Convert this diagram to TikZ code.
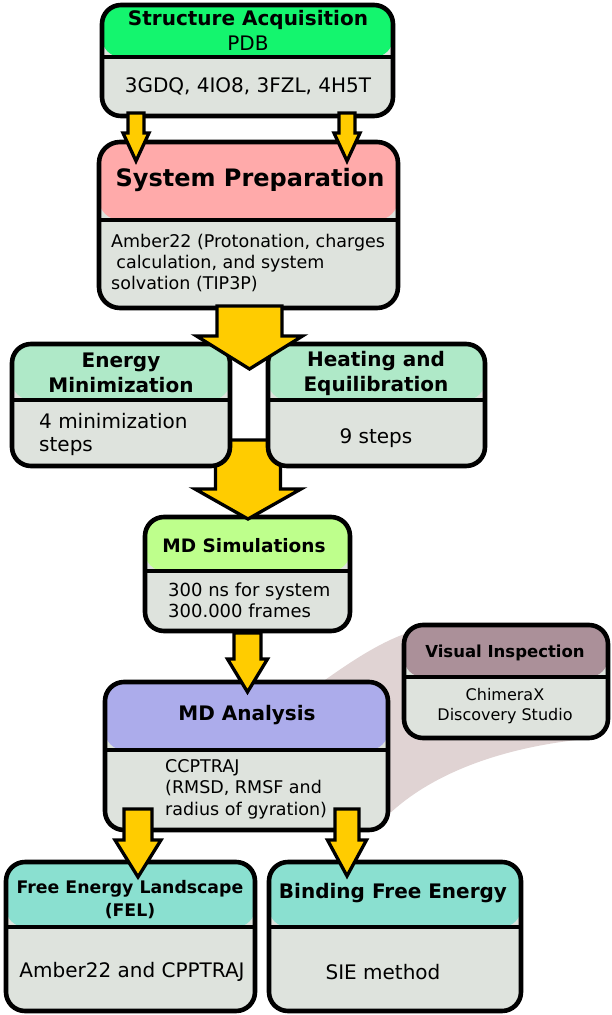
\documentclass[tikz,border=0pt]{standalone}
\usepackage{fontspec}
\setmainfont{DejaVu Sans}
\usetikzlibrary{calc}
\definecolor{hgreen}{RGB}{20,245,110}
\definecolor{bodygray}{RGB}{222,227,221}
\definecolor{hpink}{RGB}{255,170,170}
\definecolor{hmint}{RGB}{175,233,200}
\definecolor{hlime}{RGB}{190,255,140}
\definecolor{hlav}{RGB}{172,172,235}
\definecolor{hmauve}{RGB}{171,144,153}
\definecolor{hteal}{RGB}{138,224,208}
\definecolor{ayellow}{RGB}{255,204,0}
\definecolor{shadecol}{RGB}{224,211,211}
\tikzset{
  fbox/.style n args={4}{draw=black, line width=4.6pt, rounded corners=19pt, fill=bodygray,
    minimum width=#1, minimum height=#2, inner sep=0pt,
    path picture={
      \fill[#4] (path picture bounding box.north west) rectangle ([yshift=-#3]path picture bounding box.north east);
      \draw[line width=4.6pt] ([yshift=-#3]path picture bounding box.north west) -- ([yshift=-#3]path picture bounding box.north east);
    }},
  ttl/.style={font={\bfseries\fontsize{20}{25}\selectfont}, align=center, inner sep=0pt},
  txt/.style={font={\fontsize{20}{23}\selectfont}, align=center, inner sep=0pt},
  bodytxt/.style={font={\fontsize{17.5}{21.5}\selectfont}, align=left, inner sep=0pt, anchor=west},
  fatarr/.style={fill=ayellow, draw=black, line width=3.3pt, line join=miter},
}
\newcommand\fatarrow[5]{%
  \path[fatarr] let \p1=(#1), \p2=(#2) in
   (\x1-#3,\y1) -- (\x1+#3,\y1) -- (\x1+#3,\y2+#5) -- (\x1+#4,\y2+#5)
   -- (\x2,\y2) -- (\x1-#4,\y2+#5) -- (\x1-#3,\y2+#5) -- cycle;}
\begin{document}
\begin{tikzpicture}[x=1pt,y=-1pt]
\useasboundingbox (0,0) rectangle (611,1015);
\fill[white] (0,0) rectangle (611,1015);

% arrow coordinates
\coordinate (sa1) at (136,113);   \coordinate (ta1) at (136,161);
\coordinate (sa2) at (347,113);   \coordinate (ta2) at (347,161);
\coordinate (sb1) at (249.5,306); \coordinate (tb1) at (249.5,369);
\coordinate (sb2) at (248,440);   \coordinate (tb2) at (248,519);
\coordinate (sc)  at (247.5,633); \coordinate (tc)  at (247.5,692);
\coordinate (sd1) at (138,809);   \coordinate (td1) at (138,877);
\coordinate (sd2) at (347,809);   \coordinate (td2) at (347,876);

% link shading between MD Analysis and Visual Inspection
\fill[shadecol] (318,685) .. controls (350,662) and (380,642) .. (410,632)
  -- (590,690) -- (596,738) .. controls (500,746) and (430,775) .. (388,815) -- cycle;

% boxes
\node[fbox={291pt}{111pt}{52pt}{hgreen}] (acq) at (247.5,60.5) {};
\node[fbox={299pt}{166pt}{78pt}{hpink}, rounded corners=21pt] (prep) at (248.5,225) {};
\node[fbox={205pt}{114pt}{54pt}{hlime}] (mds) at (247.5,574) {};

\fatarrow{sb2}{tb2}{32.5pt}{53pt}{30pt}

\node[fbox={218pt}{122pt}{56pt}{hmint}] (em) at (121,405) {};
\node[fbox={217pt}{122pt}{56pt}{hmint}] (he) at (376.5,405) {};

\fatarrow{sb1}{tb1}{32.5pt}{53pt}{33pt}
\fatarrow{sa1}{ta1}{8pt}{13pt}{28pt}
\fatarrow{sa2}{ta2}{8pt}{13pt}{28pt}

\node[fbox={283pt}{148pt}{68pt}{hlav}] (mda) at (246.5,756) {};
\node[fbox={204pt}{113pt}{52pt}{hmauve}] (vis) at (506,681.5) {};
\node[fbox={249pt}{149pt}{65pt}{hteal}] (fel) at (130.5,936.5) {};
\node[fbox={252pt}{149pt}{65pt}{hteal}] (bfe) at (395,936.5) {};

\fatarrow{sc}{tc}{13.5pt}{20pt}{33pt}
\fatarrow{sd1}{td1}{14pt}{23pt}{37pt}
\fatarrow{sd2}{td2}{12pt}{19.5pt}{36pt}

% texts
\node[ttl] (acqT) at (248,20) {Structure Acquisition};
\node[txt] (acqS) at (248,43) {PDB};
\node[txt] (acqB) at (248,86) {3GDQ, 4IO8, 3FZL, 4H5T};

\node[ttl, font={\bfseries\fontsize{24}{28}\selectfont}] (prepT) at (250,180) {System Preparation};
\node[bodytxt] (prepB) at (111,263) {Amber22 (Protonation, charges\\\hspace*{0.3em}calculation, and system\\solvation (TIP3P)};

\node[ttl] (emT) at (121,373) {Energy\\Minimization};
\node[txt, anchor=west, align=left] (emB) at (39,434) {4 minimization\\steps};
\node[ttl] (heT) at (376,373) {Heating and\\Equilibration};
\node[txt] (heB) at (376,438) {9 steps};

\node[ttl, font={\bfseries\fontsize{18.5}{22}\selectfont}] (mdsT) at (244,546) {MD Simulations};
\node[bodytxt, font={\fontsize{18}{21}\selectfont}] (mdsB) at (168,600) {300 ns for system\\300.000 frames};

\node[ttl] (mdaT) at (247,715) {MD Analysis};
\node[bodytxt] (mdaB) at (165,789) {CCPTRAJ\\(RMSD, RMSF and\\radius of gyration)};

\node[ttl, font={\bfseries\fontsize{16.5}{20}\selectfont}] (visT) at (505,653) {Visual Inspection};
\node[txt, font={\fontsize{16}{20}\selectfont}] (visB) at (505,706) {ChimeraX\\Discovery Studio};

\node[ttl, font={\bfseries\fontsize{17.3}{23}\selectfont}] (felT) at (130,900) {Free Energy Landscape\\(FEL)};
\node[txt] (felB) at (132,972) {Amber22 and CPPTRAJ};
\node[ttl] (bfeT) at (393,893) {Binding Free Energy};
\node[txt] (bfeB) at (383,972) {SIE method};
\end{tikzpicture}
\end{document}
